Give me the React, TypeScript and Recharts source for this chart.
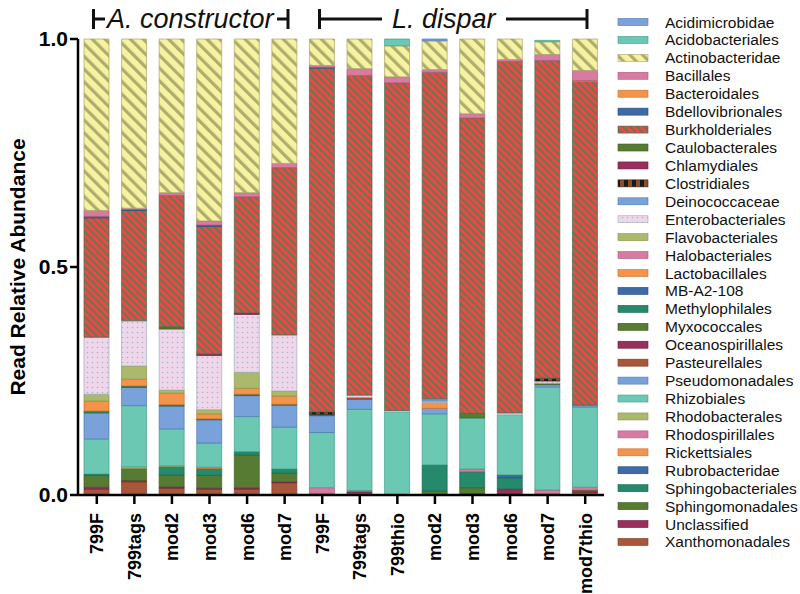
import React from 'react';
import { BarChart, Bar, XAxis, YAxis } from 'recharts';

const sampleLabels = ['799F', '799tags', 'mod2', 'mod3', 'mod6', 'mod7', '799F', '799tags', '799thio', 'mod2', 'mod3', 'mod6', 'mod7', 'mod7thio'];

// legend order (alphabetical). bars are stacked in reverse, so Xanthomonadales sits at the bottom
const taxa = [
  'Acidimicrobidae', 'Acidobacteriales', 'Actinobacteridae', 'Bacillales', 'Bacteroidales',
  'Bdellovibrionales', 'Burkholderiales', 'Caulobacterales', 'Chlamydiales', 'Clostridiales',
  'Deinococcaceae', 'Enterobacteriales', 'Flavobacteriales', 'Halobacteriales', 'Lactobacillales',
  'MB-A2-108', 'Methylophilales', 'Myxococcales', 'Oceanospirillales', 'Pasteurellales',
  'Pseudomonadales', 'Rhizobiales', 'Rhodobacterales', 'Rhodospirillales', 'Rickettsiales',
  'Rubrobacteridae', 'Sphingobacteriales', 'Sphingomonadales', 'Unclassified', 'Xanthomonadales',
];

const acidimicrobidae = [0, 0, 0, 0, 0, 0, 0, 0, 0, 0.004, 0, 0, 0, 0];
const acidobacteriales = [0, 0, 0, 0, 0, 0, 0, 0, 0.015, 0, 0, 0, 0.003, 0];
const actinobacteridae = [0.376, 0.371, 0.337, 0.399, 0.337, 0.273, 0.058, 0.065, 0.068, 0.063, 0.164, 0.045, 0.028, 0.069];
const bacillales = [0.013, 0.003, 0.006, 0.009, 0.009, 0.009, 0.004, 0.015, 0.013, 0.006, 0.009, 0.004, 0.013, 0.022];
const bacteroidales = [0, 0, 0, 0, 0, 0, 0, 0, 0, 0, 0, 0, 0, 0.002];
const bdellovibrionales = [0.003, 0.002, 0, 0.003, 0, 0, 0.002, 0, 0, 0, 0, 0, 0, 0];
const burkholderiales = [0.262, 0.242, 0.288, 0.28, 0.255, 0.367, 0.754, 0.701, 0.719, 0.716, 0.648, 0.771, 0.697, 0.71];
const caulobacterales = [0, 0, 0.005, 0, 0, 0, 0, 0, 0, 0, 0, 0, 0, 0];
const chlamydiales = [0, 0, 0, 0.003, 0.003, 0, 0, 0, 0, 0, 0, 0, 0, 0];
const clostridiales = [0, 0, 0, 0, 0, 0, 0.005, 0, 0, 0, 0, 0, 0.006, 0];
const deinococcaceae = [0, 0, 0, 0, 0, 0, 0, 0, 0, 0.005, 0, 0, 0, 0];
const enterobacteriales = [0.125, 0.099, 0.134, 0.119, 0.127, 0.123, 0, 0.005, 0.003, 0.003, 0, 0.004, 0.005, 0];
const flavobacteriales = [0.015, 0.029, 0.007, 0.009, 0.035, 0.011, 0, 0, 0, 0, 0, 0, 0, 0];
const halobacteriales = [0, 0, 0, 0, 0, 0, 0, 0, 0, 0, 0, 0, 0, 0];
const lactobacillales = [0.022, 0.015, 0.025, 0.011, 0.013, 0.018, 0, 0, 0, 0.013, 0, 0, 0, 0];
const mbA2108 = [0, 0, 0, 0, 0, 0, 0, 0, 0, 0, 0, 0, 0, 0];
const methylophilales = [0.004, 0.003, 0.003, 0.002, 0.003, 0.002, 0.003, 0, 0, 0, 0, 0, 0, 0];
const myxococcales = [0, 0, 0, 0, 0, 0, 0, 0, 0, 0, 0.01, 0, 0.003, 0];
const oceanospirillales = [0, 0, 0, 0, 0, 0, 0, 0, 0, 0, 0, 0, 0, 0];
const pasteurellales = [0, 0, 0, 0, 0, 0, 0, 0.004, 0, 0, 0, 0, 0, 0];
const pseudomonadales = [0.057, 0.04, 0.05, 0.051, 0.046, 0.048, 0.037, 0.022, 0, 0.012, 0, 0, 0.005, 0.004];
const rhizobiales = [0.077, 0.134, 0.081, 0.053, 0.077, 0.092, 0.121, 0.178, 0.182, 0.112, 0.112, 0.132, 0.226, 0.176];
const rhodobacterales = [0, 0.004, 0.002, 0, 0, 0, 0, 0, 0, 0, 0, 0, 0, 0];
const rhodospirillales = [0, 0, 0, 0, 0, 0, 0.013, 0.002, 0, 0, 0.006, 0, 0.009, 0.006];
const rickettsiales = [0, 0, 0, 0.003, 0, 0, 0, 0, 0, 0, 0, 0, 0, 0];
const rubrobacteridae = [0, 0, 0, 0, 0, 0, 0, 0, 0, 0, 0, 0.006, 0, 0];
const sphingobacteriales = [0.003, 0, 0.018, 0.015, 0.007, 0.009, 0, 0, 0, 0.057, 0.035, 0.025, 0, 0];
const sphingomonadales = [0.026, 0.026, 0.026, 0.028, 0.072, 0.019, 0.003, 0, 0, 0.009, 0.013, 0, 0, 0.003];
const unclassified = [0.004, 0.003, 0.003, 0.002, 0.003, 0.002, 0, 0.003, 0, 0, 0.003, 0.013, 0.002, 0.002];
const xanthomonadales = [0.013, 0.029, 0.015, 0.013, 0.013, 0.027, 0, 0.005, 0, 0, 0, 0, 0, 0.006];

const taxonValues = [
  acidimicrobidae, acidobacteriales, actinobacteridae, bacillales, bacteroidales,
  bdellovibrionales, burkholderiales, caulobacterales, chlamydiales, clostridiales,
  deinococcaceae, enterobacteriales, flavobacteriales, halobacteriales, lactobacillales,
  mbA2108, methylophilales, myxococcales, oceanospirillales, pasteurellales,
  pseudomonadales, rhizobiales, rhodobacterales, rhodospirillales, rickettsiales,
  rubrobacteridae, sphingobacteriales, sphingomonadales, unclassified, xanthomonadales,
];

const yTicks = [0, 0.5, 1];

// colours: [fill, outline]
const LB = ['#79a1da', '#5279b3'];
const TEAL = ['#6bc8b3', '#449c88'];
const PINK = ['#d87ba3', '#b0587e'];
const ORANGE = ['#f5934a', '#c96f2d'];
const DBLUE = ['#3e6aa7', '#24497c'];
const GREEN = ['#587b33', '#3d5a1e'];
const MAG = ['#9a2f5d', '#6e1a40'];
const BROWN = ['#a9573b', '#7c3a22'];
const OLIVE = ['#abb96c', '#86944a'];
const DTEAL = ['#25896b', '#156649'];
const YHATCH = ['url(#hatchYellow)', '#a6a66a'];
const RHATCH = ['url(#hatchRed)', '#3f6b4f'];
const DOTS = ['url(#dotsPink)', '#9bb0ba'];
const CHECK = ['url(#checkBrown)', '#3a1e10'];

const taxonColors = [
  LB, TEAL, YHATCH, PINK, ORANGE,
  DBLUE, RHATCH, GREEN, MAG, CHECK,
  LB, DOTS, OLIVE, PINK, ORANGE,
  DBLUE, DTEAL, GREEN, MAG, BROWN,
  LB, TEAL, OLIVE, PINK, ORANGE,
  DBLUE, DTEAL, GREEN, MAG, BROWN,
];

const data = sampleLabels.map((label, i) => {
  const row: Record<string, number | string> = { id: i, label };
  taxa.forEach((t, k) => { row[t] = taxonValues[k][i]; });
  return row;
});

const FONT = '"Liberation Sans", Arial, Helvetica, sans-serif';

function SampleTick(props: any) {
  const { x, y, payload } = props;
  return (
    <text
      transform={`translate(${x},${y}) rotate(-90)`}
      x={-7}
      y={0}
      dy="0.36em"
      textAnchor="end"
      fontSize={18}
      fontWeight="bold"
      fill="#000"
      fontFamily={FONT}
    >
      {sampleLabels[payload.value]}
    </text>
  );
}

function YLabel(props: any) {
  const vb = props.viewBox || { x: 0, y: 39, width: 78, height: 456 };
  const cx = vb.x + 17;
  const cy = vb.y + vb.height / 2;
  return (
    <text
      x={cx}
      y={cy}
      transform={`rotate(-90 ${cx} ${cy})`}
      textAnchor="middle"
      dominantBaseline="central"
      fontSize={21}
      fontWeight="bold"
      fill="#000"
      fontFamily={FONT}
    >
      Read Relative Abundance
    </text>
  );
}

export default function App() {
  const stackOrder = taxa.map((t, k) => k).reverse();
  return (
    <div style={{ position: 'absolute', left: 0, top: 0, width: 800, height: 594, background: '#fff', fontFamily: FONT }}>
      <BarChart
        width={800}
        height={594}
        data={data}
        margin={{ top: 39, right: 196, bottom: 9, left: 0 }}
        barSize={25}
      >
        <XAxis
          dataKey="id"
          type="category"
          interval={0}
          height={90}
          tick={<SampleTick />}
          tickSize={9}
          axisLine={{ stroke: '#000', strokeWidth: 2.5 }}
          tickLine={{ stroke: '#000', strokeWidth: 2.5 }}
        />
        <YAxis
          domain={[0, 1]}
          ticks={yTicks}
          width={78}
          tickFormatter={(v: number) => v.toFixed(1)}
          tick={{ fontSize: 21, fontWeight: 'bold', fill: '#000' }}
          tickSize={8}
          tickMargin={2}
          axisLine={{ stroke: '#000', strokeWidth: 2.5 }}
          tickLine={{ stroke: '#000', strokeWidth: 2.5 }}
          label={YLabel}
        />
        {stackOrder.map((k) => (
          <Bar
            key={taxa[k]}
            dataKey={taxa[k]}
            stackId="a"
            fill={taxonColors[k][0]}
            stroke={taxonColors[k][1]}
            strokeWidth={0.7}
            isAnimationActive={false}
          />
        ))}
      </BarChart>

      <svg width={800} height={594} style={{ position: 'absolute', left: 0, top: 0, pointerEvents: 'none' }}>
        <defs>
          <pattern id="hatchYellow" patternUnits="userSpaceOnUse" width={9} height={9} patternTransform="rotate(-45)">
            <rect width={9} height={9} fill="#f6f2a0" />
            <rect width={3.2} height={9} fill="#adad6e" />
          </pattern>
          <pattern id="hatchRed" patternUnits="userSpaceOnUse" width={5} height={5} patternTransform="rotate(-45)">
            <rect width={5} height={5} fill="#e94a45" />
            <rect width={1.7} height={5} fill="#5b7b55" />
          </pattern>
          <pattern id="dotsPink" patternUnits="userSpaceOnUse" width={5} height={5}>
            <rect width={5} height={5} fill="#efd6ea" />
            <circle cx={2.5} cy={2.5} r={0.8} fill="#a3b6c2" />
          </pattern>
          <pattern id="checkBrown" patternUnits="userSpaceOnUse" width={8} height={8}>
            <rect width={8} height={8} fill="#8d4e2c" />
            <rect width={4} height={8} fill="#1a1a1a" />
          </pattern>
        </defs>

        {/* group brackets */}
        <g stroke="#111" strokeWidth={3} fill="none">
          <line x1={93.5} y1={9} x2={93.5} y2={29} />
          <line x1={93} y1={19} x2={105} y2={19} />
          <line x1={277} y1={19} x2={288} y2={19} />
          <line x1={288} y1={9} x2={288} y2={29} />
          <line x1={319.5} y1={9} x2={319.5} y2={29} />
          <line x1={319} y1={19} x2={382} y2={19} />
          <line x1={506} y1={19} x2={587} y2={19} />
          <line x1={587} y1={9} x2={587} y2={29} />
        </g>
        <text x={107} y={28} fontSize={27} fontStyle="italic" fill="#111" fontFamily={FONT}>A. constructor</text>
        <text x={392} y={28} fontSize={27} fontStyle="italic" fill="#111" fontFamily={FONT}>L. dispar</text>

        {/* legend */}
        {taxa.map((t, k) => {
          const cy = 22 + k * 17.93;
          return (
            <g key={t}>
              <rect x={618} y={cy - 3.5} width={30} height={7} fill={taxonColors[k][0]} stroke={taxonColors[k][1]} strokeWidth={0.6} />
              <text x={665} y={cy} dominantBaseline="central" fontSize={15.5} fill="#111" fontFamily={FONT}>{t}</text>
            </g>
          );
        })}
      </svg>
    </div>
  );
}
